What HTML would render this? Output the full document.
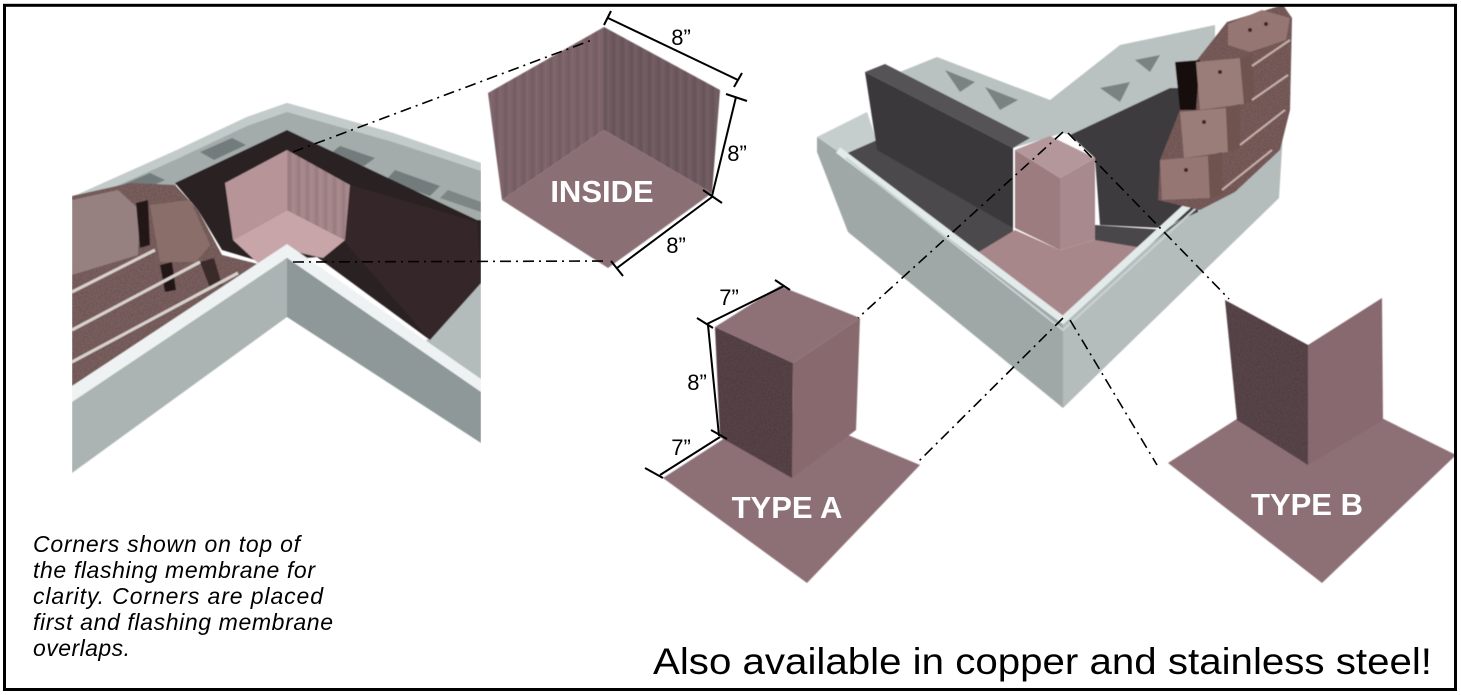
<!DOCTYPE html>
<html><head><meta charset="utf-8"><style>
html,body{margin:0;padding:0;background:#fff;}
svg{display:block;}
</style></head><body>
<svg width="1461" height="695" viewBox="0 0 1461 695" xmlns="http://www.w3.org/2000/svg" xml:space="preserve">
<defs>
<clipPath id="cl"><rect x="72" y="95" width="409" height="381"/></clipPath>
<clipPath id="cf"><rect x="0" y="0" width="1455" height="695"/></clipPath>
<pattern id="vs" width="9" height="20" patternUnits="userSpaceOnUse"><rect x="0" y="0" width="3" height="20" fill="#000" fill-opacity="0.07"/><rect x="5" y="0" width="1" height="20" fill="#fff" fill-opacity="0.05"/></pattern>
<filter id="tex" x="0" y="0" width="100%" height="100%">
 <feTurbulence type="fractalNoise" baseFrequency="0.9" numOctaves="2" seed="4" result="n"/>
 <feColorMatrix in="n" type="matrix" values="0 0 0 0 0  0 0 0 0 0  0 0 0 0 0  1.2 0 0 0 -0.45" result="a"/>
 <feComposite in="a" in2="SourceGraphic" operator="in" result="c"/>
 <feMerge><feMergeNode in="SourceGraphic"/><feMergeNode in="c"/></feMerge>
</filter>
<filter id="soft"><feGaussianBlur stdDeviation="0.6"/></filter>
</defs>

<!-- ============ LEFT IMAGE ============ -->
<g clip-path="url(#cl)">
 <g filter="url(#soft)">
 <polygon points="72,197 177,150 247,117 287,103 393,133 481,163 481,230 287,133 175,186 72,234" fill="#a3abab"/>
 <polygon points="72,197 177,150 247,117 287,103 393,133 481,163 481,171 393,142 287,112 247,126 177,159 72,206" fill="#c3caca"/>
 <polygon points="110,190 150,173 165,180 125,198" fill="#737b7b"/>
 <polygon points="200,152 232,138 246,145 214,160" fill="#737b7b"/>
 <polygon points="340,146 375,158 364,166 330,154" fill="#737b7b"/>
 <polygon points="395,170 440,186 430,196 386,180" fill="#737b7b"/>
 <polygon points="448,190 481,202 481,212 440,198" fill="#7d8585"/>
 <polygon points="425,342 481,278 481,384 415,340" fill="#b4bbbb"/>
 <polygon points="72,196 130,183 175,185 198,210 222,255 262,265 72,392" fill="#7f6462" filter="url(#tex)"/>
 <polygon points="72,200 118,190 140,210 138,255 72,275" fill="#968180"/>
 <polygon points="150,205 190,200 210,245 196,262 160,262" fill="#8a6e6b"/>
 <polygon points="136,203 148,200 150,245 140,248" fill="#201818"/>
 <polygon points="160,265 172,262 176,290 165,292" fill="#201818"/>
 <polygon points="200,262 214,258 222,285 210,288" fill="#3a2a2a"/>
 <g stroke="#d9d2cd" stroke-width="3" fill="none">
  <line x1="72" y1="292" x2="155" y2="250"/>
  <line x1="72" y1="330" x2="200" y2="262"/>
  <line x1="72" y1="362" x2="238" y2="273"/>
  <line x1="88" y1="380" x2="245" y2="292"/>
 </g>
 <polygon points="175,183 287,130 477,220 481,220 481,283 430,340 317,257 262,262 222,250 198,210" fill="#2c2022"/>
 <polygon points="350,185 477,222 481,283 430,340 345,242" fill="#362829"/>
 <polygon points="225,183 287,150 287,210 233,240" fill="#b79498"/>
 <polygon points="287,150 350,185 345,240 287,210" fill="#a5868a"/>
 <polygon points="287,150 350,185 345,240 287,210" fill="url(#vs)"/>
 <polygon points="233,240 287,210 345,240 323,258 287,250 260,265" fill="#c8a5a9"/>
 <polygon points="72,386 287,244 481,379 481,392 287,258 72,402" fill="#eef2f2"/>
 <polygon points="72,402 287,258 287,317 72,473" fill="#abb3b3"/>
 <polygon points="287,258 481,392 481,443 287,317" fill="#8e9898"/>
 </g>
</g>

<!-- ============ INSIDE piece ============ -->
<g filter="url(#soft)">
 <polygon points="488,93 604,27 604,130 502,200" fill="#7c6469"/>
 <polygon points="604,27 720,90 712,193 604,130" fill="#6f5a60"/>
 <polygon points="488,93 604,27 720,90 712,193 604,130 502,200" fill="url(#vs)"/>
 <polygon points="502,200 604,130 712,193 608,268" fill="#8a6f75"/>
</g>
<text x="602" y="202" font-family="Liberation Sans, Arial, sans-serif" font-weight="bold" font-size="31" fill="#fff" text-anchor="middle">INSIDE</text>

<g stroke="#000" stroke-width="2" fill="none">
 <line x1="608" y1="18" x2="738" y2="80"/>
 <line x1="611" y1="11" x2="604" y2="25"/>
 <line x1="742" y1="73" x2="734" y2="87"/>
 <line x1="736" y1="97" x2="712" y2="196"/>
 <line x1="726" y1="94" x2="747" y2="101"/>
 <line x1="712" y1="197" x2="617" y2="268"/>
 <line x1="703" y1="190" x2="722" y2="203"/>
 <line x1="611" y1="261" x2="623" y2="276"/>
</g>
<g font-family="Liberation Sans, Arial, sans-serif" font-size="22" fill="#000" text-anchor="middle">
 <text x="681" y="45">8”</text>
 <text x="737" y="161">8”</text>
 <text x="676" y="253">8”</text>
</g>

<!-- ============ RIGHT MAIN IMAGE ============ -->
<g filter="url(#soft)">
 <polygon points="817,137 867,112 880,150 843,155" fill="#c6cdcd"/>
 <polygon points="817,137 843,155 1063,322 1063,408 848,232 817,152" fill="#9fa7a7"/>
 <polygon points="1063,322 1266,133 1284,116 1279,198 1063,408" fill="#b5bcbc"/>
 <polygon points="1266,110 1286,105 1284,118 1266,133" fill="#c6cdcd"/>
 <polygon points="880,80 937,57 1050,100 1120,45 1215,25 1215,88 1080,137 1063,133 1013,148" fill="#b9c1c1"/>
 <polygon points="945,70 975,82 960,92" fill="#7a8282"/>
 <polygon points="985,87 1018,100 1000,110" fill="#7a8282"/>
 <polygon points="1100,88 1130,82 1120,102" fill="#7a8282"/>
 <polygon points="1135,60 1160,55 1150,72" fill="#7a8282"/>
 <polygon points="843,155 877,140 1013,228 1013,245 977,253" fill="#4c494c"/>
 <polygon points="865,72 1013,148 1013,228 877,150" fill="#3b393b"/>
 <polygon points="865,72 885,64 1030,138 1013,148" fill="#555255"/>
 <polygon points="1070,135 1170,88 1205,88 1198,212 1163,228 1100,225 1095,158" fill="#3c3a3c"/>
 <polygon points="1095,225 1165,230 1205,205 1240,175 1143,250 1095,242" fill="#4a474a"/>
 <polygon points="977,253 1015,230 1060,250 1095,240 1143,248 1065,318" fill="#a8878b"/>
 <polygon points="1015,150 1060,178 1060,250 1015,228" fill="#9c7b7f"/>
 <polygon points="1060,178 1095,158 1095,240 1060,250" fill="#a88a8e"/>
 <polygon points="1015,150 1050,136 1095,158 1060,178" fill="#b3979b"/>
 <polyline points="838,150 1063,320 1268,132" fill="none" stroke="#e2eaea" stroke-width="7"/>
 <polyline points="846,158 1063,330 1268,142" fill="none" stroke="#c9d1d1" stroke-width="2"/>
 <!-- bricks -->
 <polygon points="1158,200 1160,160 1180,110 1197,60 1227,22 1283,5 1292,18 1290,110 1280,150 1235,192 1200,210" fill="#7e605e" filter="url(#tex)"/>
 <polygon points="1175,62 1200,60 1196,110 1180,110" fill="#151010"/>
 <polygon points="1228,24 1262,10 1290,18 1286,40 1250,52 1228,45" fill="#957673"/>
 <polygon points="1196,62 1240,58 1244,104 1200,110" fill="#9a7b78"/>
 <polygon points="1180,112 1226,108 1228,152 1184,158" fill="#9a7b78"/>
 <polygon points="1160,160 1208,156 1210,198 1162,200" fill="#957673"/>
 <polygon points="1240,58 1252,54 1254,100 1244,104" fill="#6e5250"/>
 <polygon points="1226,108 1240,104 1240,148 1228,152" fill="#6e5250"/>
 <polygon points="1208,156 1222,152 1222,194 1210,198" fill="#6e5250"/>
 <g stroke="#c5b0ab" stroke-width="2" fill="none">
  <line x1="1252" y1="66" x2="1290" y2="40"/>
  <line x1="1252" y1="100" x2="1288" y2="75"/>
  <line x1="1240" y1="145" x2="1285" y2="110"/>
  <line x1="1222" y1="190" x2="1272" y2="150"/>
 </g>
 <g fill="#3a2828">
  <circle cx="1250" cy="30" r="2"/><circle cx="1266" cy="24" r="2"/>
  <circle cx="1220" cy="72" r="2"/><circle cx="1204" cy="122" r="2"/><circle cx="1186" cy="170" r="2"/>
 </g>
</g>

<!-- ============ TYPE A ============ -->
<g filter="url(#soft)">
 <polygon points="663,478 776,405 920,465 807,583" fill="#8d7076"/>
 <polygon points="715,327 793,363 792,478 720,437" fill="#5b464b" filter="url(#tex)"/>
 <polygon points="793,363 860,318 856,430 792,478" fill="#87696e"/>
 <polygon points="715,327 780,286 860,318 793,363" fill="#8e7177"/>
</g>
<text x="787" y="518" font-family="Liberation Sans, Arial, sans-serif" font-weight="bold" font-size="31" fill="#fff" text-anchor="middle">TYPE A</text>
<g stroke="#000" stroke-width="2" fill="none">
 <line x1="707" y1="324" x2="784" y2="286"/>
 <line x1="697" y1="318" x2="713" y2="328"/>
 <line x1="775" y1="280" x2="790" y2="290"/>
 <line x1="708" y1="325" x2="719" y2="436"/>
 <line x1="711" y1="430" x2="727" y2="439"/>
 <line x1="720" y1="437" x2="660" y2="475"/>
 <line x1="645" y1="468" x2="663" y2="478"/>
</g>
<g font-family="Liberation Sans, Arial, sans-serif" font-size="22" fill="#000" text-anchor="middle">
 <text x="729" y="305">7”</text>
 <text x="697" y="390">8”</text>
 <text x="681" y="455">7”</text>
</g>

<!-- ============ TYPE B ============ -->
<g clip-path="url(#cf)">
 <g filter="url(#soft)">
  <polygon points="1168,463 1301,378 1456,455 1322,583" fill="#8d7076"/>
  <polygon points="1225,300 1308,345 1308,465 1237,420" fill="#5d484d" filter="url(#tex)"/>
  <polygon points="1308,345 1382,298 1383,420 1308,465" fill="#88696f"/>
 </g>
</g>
<text x="1307" y="515" font-family="Liberation Sans, Arial, sans-serif" font-weight="bold" font-size="31" fill="#fff" text-anchor="middle">TYPE B</text>

<g stroke="#000" stroke-width="1.6" fill="none" stroke-dasharray="11,5,2,5">
 <line x1="293" y1="152" x2="592" y2="40"/>
 <line x1="293" y1="262" x2="608" y2="261"/>
 <line x1="1063" y1="132" x2="858" y2="318"/>
 <line x1="1068" y1="133" x2="1229" y2="299"/>
 <line x1="1063" y1="318" x2="917" y2="463"/>
 <line x1="1070" y1="320" x2="1157" y2="465"/>
</g>

<g font-family="Liberation Sans, Arial, sans-serif" font-style="italic" font-size="23" fill="#000">
 <text x="33" y="552" textLength="267" lengthAdjust="spacing">Corners shown on top of</text>
 <text x="33" y="578" textLength="282" lengthAdjust="spacing">the flashing membrane for</text>
 <text x="33" y="604" textLength="290" lengthAdjust="spacing">clarity.  Corners are placed</text>
 <text x="33" y="630" textLength="300" lengthAdjust="spacing">first and flashing membrane</text>
 <text x="33" y="656" textLength="97" lengthAdjust="spacing">overlaps.</text>
</g>
<text x="653" y="674" font-family="Liberation Sans, Arial, sans-serif" font-size="37" fill="#000" textLength="779" lengthAdjust="spacingAndGlyphs">Also available in copper and stainless steel!</text>

<rect x="4.5" y="5.3" width="1451" height="684.2" fill="none" stroke="#000" stroke-width="3"/>
</svg>
</body></html>
